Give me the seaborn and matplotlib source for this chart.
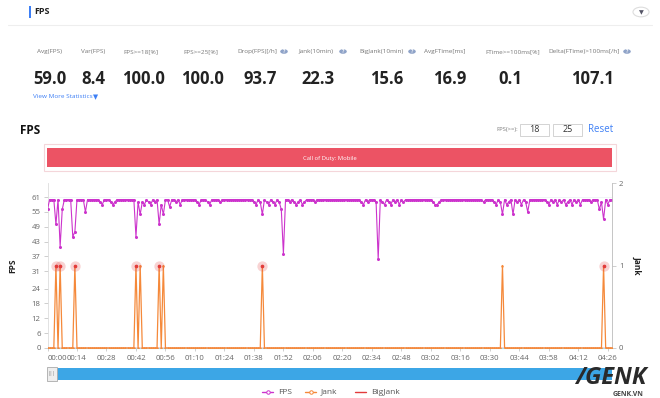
import numpy as np
import pandas as pd
import matplotlib
matplotlib.use("Agg")
import matplotlib.pyplot as plt
import seaborn as sns
from matplotlib.patches import Rectangle, Circle
from matplotlib.lines import Line2D

# ---------------- data ----------------
stat_labels = ["Avg(FPS)", "Var(FPS)", "FPS>=18[%]", "FPS>=25[%]", "Drop(FPS)[/h]",
               "Jank(10min)", "BigJank(10min)", "AvgFTime[ms]", "FTime>=100ms[%]",
               "Delta(FTime)>100ms[/h]"]
stat_values = ["59.0", "8.4", "100.0", "100.0", "93.7", "22.3", "15.6", "16.9", "0.1", "107.1"]
stat_info = [False, False, False, False, True, True, True, False, False, True]

fps = [
    56, 60, 60, 60, 50, 60, 41, 56, 60, 60, 60, 60, 45, 47, 60, 60, 60, 60, 55, 60,
    60, 60, 60, 60, 60, 59, 58, 60, 60, 60, 59, 58, 59, 60, 60, 60, 60, 60, 60, 60,
    60, 60, 45, 59, 54, 59, 58, 60, 59, 58, 60, 59, 60, 50, 58, 54, 60, 60, 57, 60,
    60, 59, 60, 58, 60, 60, 60, 60, 60, 60, 60, 59, 58, 60, 60, 60, 59, 58, 60, 60,
    60, 60, 59, 60, 60, 60, 60, 60, 60, 60, 60, 60, 60, 60, 60, 60, 60, 60, 59, 58,
    60, 59, 54, 60, 59, 58, 60, 59, 58, 60, 59, 56, 38, 60, 60, 59, 60, 59, 58, 59,
    60, 58, 59, 60, 60, 60, 60, 59, 60, 60, 60, 60, 60, 60, 60, 60, 60, 60, 60, 60,
    60, 60, 60, 60, 60, 60, 60, 60, 60, 59, 58, 60, 59, 60, 60, 60, 59, 36, 60, 59,
    58, 60, 59, 58, 60, 59, 60, 58, 60, 59, 60, 60, 60, 60, 60, 60, 60, 60, 60, 60,
    60, 60, 60, 59, 58, 58, 59, 60, 60, 60, 60, 60, 60, 60, 60, 60, 60, 60, 60, 60,
    60, 60, 60, 60, 60, 60, 60, 59, 60, 60, 60, 60, 59, 58, 60, 59, 54, 60, 58, 59,
    60, 54, 60, 59, 60, 58, 60, 59, 55, 60, 60, 60, 60, 60, 60, 60, 60, 59, 58, 60,
    59, 60, 58, 60, 59, 60, 58, 59, 60, 58, 60, 59, 60, 58, 60, 60, 60, 60, 59, 60,
    60, 60, 56, 59, 52, 60, 58, 60, 60,
]
seconds = list(range(len(fps)))
jank_times = [4, 6, 13, 42, 44, 53, 55, 102, 216, 264]
bigjank_times = [4, 6, 13, 42, 53, 102, 264]
jank = [1 if t in jank_times else 0 for t in seconds]
bigjank = [0 for t in seconds]

left_ticks = [0, 6, 12, 18, 24, 31, 37, 43, 49, 55, 61]
right_ticks = [0, 1, 2]
x_tick_labels = ["00:00", "00:14", "00:28", "00:42", "00:56", "01:10", "01:24", "01:38",
                 "01:52", "02:06", "02:20", "02:34", "02:48", "03:02", "03:16", "03:30",
                 "03:44", "03:58", "04:12", "04:26"]
x_tick_secs = [0, 14, 28, 42, 56, 70, 84, 98, 112, 126, 140, 154, 168, 182, 196, 210,
               224, 238, 252, 266]
banner_text = "Call of Duty: Mobile"

df = pd.DataFrame({"t": seconds, "FPS": fps, "Jank": jank, "BigJank": bigjank})

# ---------------- style ----------------
sns.set_theme(style="white")
plt.rcParams["font.family"] = ["Open Sans", "DejaVu Sans"]

W, H = 660, 398
fig = plt.figure(figsize=(W / 100, H / 100), dpi=100)
fig.patch.set_facecolor("white")

def fx(x):
    return x / W

def fy(y):
    return 1 - y / H

C_FPS = "#CC33CC"
C_JANK = "#F5893A"
C_BIG = "#E23B3B"
GREY = "#777777"

# header
fig.add_artist(Rectangle((fx(29), fy(18)), 2 / W, 12 / H, transform=fig.transFigure,
                         color="#3D7FF5", lw=0))
fig.text(fx(34), fy(12), "FPS", fontsize=6.5, fontweight="bold", color="#222222",
         va="center", ha="left")
fig.add_artist(Line2D([fx(8), fx(652)], [fy(25), fy(25)], transform=fig.transFigure,
                      color="#EEEEEE", lw=0.8))
fig.add_artist(Circle((fx(641), fy(12)), 8 / W, transform=fig.transFigure,
                      facecolor="white", edgecolor="#DDDDDD", lw=0.8))
fig.text(fx(641), fy(12.5), "▼", fontsize=4.5, color="#555566", ha="center", va="center",
         family=["DejaVu Sans"])

# stats row
label_x = [49, 93, 141, 201, 257, 316, 381, 445, 513, 584]
icon_x = [None, None, None, None, 284, 343, 412, None, None, 627]
value_x = [50, 93, 143, 202, 260, 318, 387, 450, 510, 592]
for lab, lx, info, ix in zip(stat_labels, label_x, stat_info, icon_x):
    fig.text(fx(lx), fy(52), lab, fontsize=4.6, color=GREY, ha="center", va="center")
    if info:
        fig.add_artist(Circle((fx(ix), fy(51.5)), 3.8 / W,
                              transform=fig.transFigure, facecolor="#8FA3C8",
                              edgecolor="none"))
        fig.text(fx(ix), fy(51.7), "?", fontsize=3.5, color="white",
                 ha="center", va="center", fontweight="bold")
for val, vx in zip(stat_values, value_x):
    fig.text(fx(vx), fy(79), val, fontsize=12, fontweight="bold", color="#222222",
             ha="center", va="center")
fig.text(fx(33), fy(97), "View More Statistics", fontsize=4.6, color="#3D7FF5",
         ha="left", va="center")
fig.text(fx(96), fy(97), "▼", fontsize=4.8, color="#3D7FF5", ha="center", va="center",
         family=["DejaVu Sans"])

# chart title row
fig.text(fx(20), fy(131), "FPS", fontsize=8.5, fontweight="bold", color="#111111",
         ha="left", va="center")
fig.text(fx(496), fy(130), "FPS(>=):", fontsize=4.2, color=GREY, ha="left", va="center")
for bx, txt in [(520, "18"), (553, "25")]:
    fig.add_artist(Rectangle((fx(bx), fy(136)), 29 / W, 12 / H, transform=fig.transFigure,
                             facecolor="white", edgecolor="#CCCCCC", lw=0.6))
    fig.text(fx(bx + 14.5), fy(130), txt, fontsize=6.5, color="#333333", ha="center",
             va="center")
fig.text(fx(588), fy(130), "Reset", fontsize=7, color="#3D7FF5", ha="left", va="center")

# banner
fig.add_artist(Rectangle((fx(44), fy(171)), 572 / W, 27 / H, transform=fig.transFigure,
                         facecolor="white", edgecolor="#F4D6DA", lw=0.8))
fig.add_artist(Rectangle((fx(47), fy(167)), 565 / W, 19 / H, transform=fig.transFigure,
                         facecolor="#EC5364", edgecolor="none"))
fig.text(fx(330), fy(158), banner_text, fontsize=4.2, color="white", ha="center",
         va="center")

# ---------------- main axes ----------------
ax = fig.add_axes([fx(47.5), fy(348), (612 - 47.5) / W, (348 - 183) / H])
ax.set_xlim(0, 268)
ax.set_ylim(0, 66.7)
sns.lineplot(data=df, x="t", y="FPS", ax=ax, color=C_FPS, lw=0.8, marker="o",
             markersize=2.2, markeredgewidth=0, zorder=4)
ax.axhline(61, color="#EEF3F5", lw=0.6, zorder=1)

ax2 = ax.twinx()
ax2.set_ylim(0, 2)
sns.lineplot(data=df, x="t", y="BigJank", ax=ax2, color=C_BIG, lw=1.0, zorder=3)
sns.lineplot(data=df, x="t", y="Jank", ax=ax2, color=C_JANK, lw=0.9, marker="o",
             markersize=1.8, markeredgewidth=0, zorder=4)
big_df = df[df["t"].isin(bigjank_times)]
ax2.scatter(big_df["t"], big_df["Jank"], s=55, color=C_BIG, alpha=0.22, lw=0, zorder=5)
ax2.scatter(big_df["t"], big_df["Jank"], s=7, color=C_BIG, lw=0, zorder=6)

for a in (ax, ax2):
    a.set_facecolor("none")
    for s in a.spines.values():
        s.set_visible(False)
ax.spines["left"].set_visible(True)
ax.spines["left"].set_color("#DDDDDD")
ax.spines["left"].set_linewidth(0.6)
ax.spines["bottom"].set_visible(True)
ax.spines["bottom"].set_color("#A8DCEB")
ax.spines["bottom"].set_linewidth(0.8)
ax2.spines["right"].set_visible(True)
ax2.spines["right"].set_color("#BBBBBB")
ax2.spines["right"].set_linewidth(0.6)

ax.set_yticks(left_ticks)
ax.set_yticklabels([str(v) for v in left_ticks])
ax.set_xticks(x_tick_secs)
ax.set_xticklabels(x_tick_labels)
ax.get_xticklabels()[0].set_horizontalalignment("left")
ax.tick_params(axis="y", labelsize=5.6, colors="#666666", length=3, width=0.5,
               color="#BBBBBB", pad=2, left=True)
ax.tick_params(axis="x", labelsize=5.6, colors="#666666", length=2.5, width=0.5,
               color="#BBBBBB", pad=2.5, bottom=True)
ax2.set_yticks(right_ticks)
ax2.tick_params(axis="y", labelsize=5.6, colors="#666666", length=3, width=0.5,
                color="#BBBBBB", pad=2, right=True)
ax.set_xlabel("")
ax.set_ylabel("FPS", fontsize=6, fontweight="bold", color="#222222", labelpad=10)
ax2.set_ylabel("Jank", fontsize=6, fontweight="bold", color="#222222", rotation=-90,
               labelpad=13)

# ---------------- data zoom slider ----------------
fig.add_artist(Rectangle((fx(50), fy(380)), 562 / W, 12 / H, transform=fig.transFigure,
                         facecolor="#3CA6E6", edgecolor="none"))
fig.add_artist(Rectangle((fx(47), fy(381)), 10 / W, 14 / H, transform=fig.transFigure,
                         facecolor="#EEEEEE", edgecolor="#AAAAAA", lw=0.6))
fig.text(fx(52), fy(374), "|||", fontsize=3.5, color="#777777", ha="center", va="center")

# ---------------- legend ----------------
leg_items = [("FPS", C_FPS, "o", 262), ("Jank", C_JANK, "o", 305), ("BigJank", C_BIG, None, 355)]
for name, col, mk, lx in leg_items:
    fig.add_artist(Line2D([fx(lx), fx(lx + 11)], [fy(392), fy(392)], transform=fig.transFigure,
                          color=col, lw=1.0))
    if mk:
        fig.add_artist(Line2D([fx(lx + 5.5)], [fy(392)], transform=fig.transFigure,
                              color=col, marker="o", markersize=2.5, markeredgewidth=0.7,
                              markerfacecolor="white", markeredgecolor=col))
    fig.text(fx(lx + 16), fy(392), name, fontsize=6, color="#555555", ha="left", va="center")

# watermark
fig.text(fx(611), fy(378), "/GENK", fontsize=17, fontweight="bold", fontstyle="italic",
         color="#2A2A2A", ha="center", va="center")
fig.text(fx(628), fy(394), "GENK.VN", fontsize=5, fontweight="bold", color="#444444",
         ha="center", va="center")

fig.savefig("out.png", dpi=100, facecolor="white")
